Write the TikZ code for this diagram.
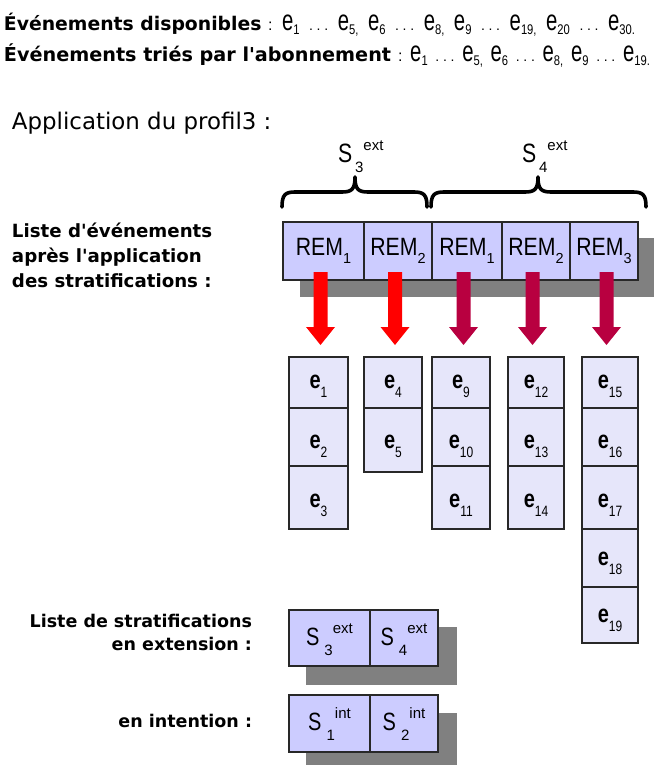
\documentclass[tikz,border=0pt]{standalone}
\usepackage{fontspec}
\usetikzlibrary{arrows.meta}
\newfontfamily\Dj{DejaVu Sans}
\newfontfamily\Ar{Liberation Sans}
\newfontfamily\ArS[FakeStretch=0.8]{Liberation Sans}
\newfontfamily\ArN[FakeStretch=0.85]{Liberation Sans}
\newfontfamily\ArT[FakeStretch=0.7]{Liberation Sans}
\definecolor{remfill}{RGB}{204,204,255}
\definecolor{efill}{RGB}{230,230,250}
\definecolor{shadowgray}{RGB}{128,128,128}
\definecolor{arrred}{RGB}{255,0,0}
\definecolor{arrcrim}{RGB}{184,0,64}
\definecolor{edgec}{RGB}{40,40,40}
\newcommand\fsz[1]{\fontsize{#1}{#1}\selectfont}
% top line pieces
\newcommand\te[2]{{\ArT\fsz{29}e}\raisebox{-4pt}{\ArS\fsz{14}#1#2}}
\newcommand\tdots{\hbox to 19pt{\Ar\fsz{14}.\hfil.\hfil.}}
\newcommand\tcolon{{\Ar\fsz{16}:}}
% REM
\newcommand\REM[1]{{\ArN\fsz{25}REM}\raisebox{-8pt}{\Ar\fsz{14.5}#1}}
% e cell
\newcommand\EC[1]{{\ArS\bfseries\fsz{25}e}\raisebox{-9pt}{\ArS\fsz{15}#1}\hspace{8pt}}
% S box
\newcommand\SB[2]{{\ArS\fsz{25}S}\hspace{5pt}\raisebox{-10pt}{\Ar\fsz{15}#1}\raisebox{12pt}{\Ar\fsz{15}#2}\hspace{4pt}}
\newcommand\SL[2]{{\ArS\fsz{26.5}S}\hspace{3pt}\raisebox{-10pt}{\Ar\fsz{15}#1}\raisebox{12pt}{\Ar\fsz{15}#2}}
\newcommand\bigarr[2]{\fill[#1] (#2) ++(-7,-8) -- ++(14,0) -- ++(0,55) -- ++(7.5,0) -- ++(-14.5,18) -- ++(-14.5,-18) -- ++(7.5,0) -- cycle;}
\begin{document}
\begin{tikzpicture}[x=1pt,y=-1pt,
  every node/.style={inner sep=0pt, outer sep=0pt},
  remcell/.style={draw=edgec, fill=remfill, line width=1.2pt, minimum height=58pt, anchor=north west},
  ecell/.style={draw=edgec, fill=efill, line width=1.2pt, anchor=north west, text depth=0pt},
  sbox/.style={draw=edgec, fill=remfill, line width=1.2pt, anchor=north west, text height=24pt, text depth=10pt},
  lbl/.style={font=\Dj\bfseries\fsz{18.2}, anchor=base west},
  rlbl/.style={font=\Dj\bfseries\fsz{17.5}, anchor=base east},
  bracestroke/.style={line width=3.6pt, line cap=round, line join=round}]
\useasboundingbox (0,0) rectangle (654,765);

% header
\node[anchor=base west, font=\Dj\bfseries\fsz{18.8}] (h1) at (4,31) {Événements disponibles};
\node[anchor=base west] (h1t) at (268,31) {\hbox to 367pt{\tcolon\hfil\te{1}{}\hfil\tdots\hfil\te{5}{,}\hfil\te{6}{}\hfil\tdots\hfil\te{8}{,}\hfil\te{9}{}\hfil\tdots\hfil\te{19}{,}\hfil\te{20}{}\hfil\tdots\hfil\te{30}{.}}};
\node[anchor=base west, font=\Dj\bfseries\fsz{19.2}] (h2) at (4,62) {Événements triés par l'abonnement};
\node[anchor=base west] (h2t) at (398,62) {\hbox to 252pt{\tcolon\hfil\te{1}{}\hfil\tdots\hfil\te{5}{,}\hfil\te{6}{}\hfil\tdots\hfil\te{8}{,}\hfil\te{9}{}\hfil\tdots\hfil\te{19}{.}}};

\node[anchor=base west, font=\Dj\fsz{22.9}] (app) at (12,129) {Application du profil3 :};

% brace labels and braces
\node[anchor=base west] (s3lab) at (338,162) {\SL{3}{ext}};
\node[anchor=base west] (s4lab) at (522,162) {\SL{4}{ext}};
\draw[bracestroke] (282,207) .. controls (282,195) and (285,192) .. (295,192) -- (342,192) .. controls (352,192) and (355,189) .. (355,177) .. controls (355,189) and (358,192) .. (368,192) -- (414,192) .. controls (424,192) and (427,195) .. (427,207);
\draw[bracestroke] (431,207) .. controls (431,195) and (434,192) .. (444,192) -- (525,192) .. controls (535,192) and (538,189) .. (538,177) .. controls (538,189) and (541,192) .. (551,192) -- (633,192) .. controls (643,192) and (646,195) .. (646,207);

% left labels
\node[lbl] (l1) at (12,237) {Liste d'événements};
\node[lbl] (l2) at (12,262) {après l'application};
\node[lbl] (l3) at (12,287) {des stratifications :};

% REM row
\fill[shadowgray] (300,238) rectangle (654,297);
\node[remcell, minimum width=81pt] (rem1) at (283,222) {\REM{1}};
\node[remcell, minimum width=68pt] (rem2) at (364,222) {\REM{2}};
\node[remcell, minimum width=70pt] (rem3) at (432,222) {\REM{1}};
\node[remcell, minimum width=68pt] (rem4) at (502,222) {\REM{2}};
\node[remcell, minimum width=68pt] (rem5) at (570,222) {\REM{3}};

% arrows
\bigarr{arrred}{[xshift=-3pt]rem1.south}
\bigarr{arrred}{[xshift=-3pt]rem2.south}
\bigarr{arrcrim}{[xshift=-3.5pt]rem3.south}
\bigarr{arrcrim}{[xshift=-3.5pt]rem4.south}
\bigarr{arrcrim}{[xshift=2.5pt]rem5.south}

% event cells
\node[ecell, minimum width=59pt, minimum height=51pt, text height=11pt] (e1) at (289,357) {\EC{1}};
\node[ecell, minimum width=59pt, minimum height=58pt, text height=22pt] (e2) at (289,408) {\EC{2}};
\node[ecell, minimum width=59pt, minimum height=63pt, text height=19pt] (e3) at (289,466) {\EC{3}};

\node[ecell, minimum width=58pt, minimum height=51pt, text height=11pt] (e4) at (364,357) {\EC{4}};
\node[ecell, minimum width=58pt, minimum height=64pt, text height=16pt] (e5) at (364,408) {\EC{5}};

\node[ecell, minimum width=58pt, minimum height=51pt, text height=11pt] (e9) at (432,357) {\EC{9}};
\node[ecell, minimum width=58pt, minimum height=58pt, text height=22pt] (e10) at (432,408) {\EC{10}};
\node[ecell, minimum width=58pt, minimum height=63pt, text height=19pt] (e11) at (432,466) {\EC{11}};

\node[ecell, minimum width=56pt, minimum height=51pt, text height=11pt] (e12) at (508,357) {\EC{12}};
\node[ecell, minimum width=56pt, minimum height=58pt, text height=22pt] (e13) at (508,408) {\EC{13}};
\node[ecell, minimum width=56pt, minimum height=63pt, text height=19pt] (e14) at (508,466) {\EC{14}};

\node[ecell, minimum width=56pt, minimum height=51pt, text height=11pt] (e15) at (582,357) {\EC{15}};
\node[ecell, minimum width=56pt, minimum height=58pt, text height=22pt] (e16) at (582,408) {\EC{16}};
\node[ecell, minimum width=56pt, minimum height=63pt, text height=19pt] (e17) at (582,466) {\EC{17}};
\node[ecell, minimum width=56pt, minimum height=58pt, text height=14pt] (e18) at (582,529) {\EC{18}};
\node[ecell, minimum width=56pt, minimum height=56pt, text height=14pt] (e19) at (582,587) {\EC{19}};

% stratification lists
\node[rlbl] (b1) at (252,627) {Liste de stratifications};
\node[rlbl] (b2) at (252,650) {en extension :};
\node[rlbl] (b3) at (252,727) {en intention :};

\fill[shadowgray] (306,627) rectangle (457,685);
\node[sbox, minimum width=81pt, minimum height=56pt] (sx3) at (289,610) {\SB{3}{ext}};
\node[sbox, minimum width=68pt, minimum height=56pt] (sx4) at (370,610) {\SB{4}{ext}};

\fill[shadowgray] (306,713) rectangle (457,765);
\node[sbox, minimum width=81pt, minimum height=57pt] (si1) at (289,695) {\SB{1}{int}};
\node[sbox, minimum width=68pt, minimum height=57pt] (si2) at (370,695) {\SB{2}{int}};
\end{tikzpicture}
\end{document}
